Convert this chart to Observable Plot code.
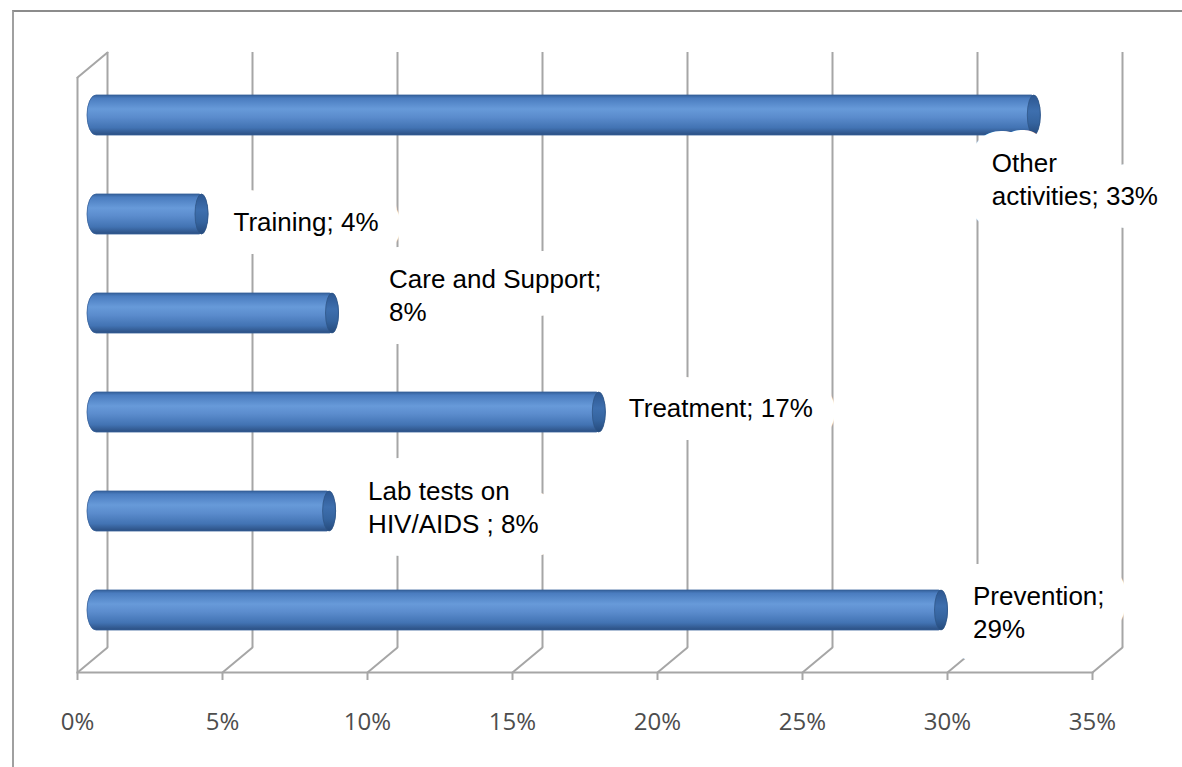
<!DOCTYPE html>
<html>
<head>
<meta charset="utf-8">
<script src="https://cdn.jsdelivr.net/npm/d3@7"></script>
<script src="https://cdn.jsdelivr.net/npm/@observablehq/plot@0.6"></script>
<style>
  html, body { margin: 0; padding: 0; background: #fff; overflow: hidden; }
  #chart { position: absolute; left: 0; top: 0; }
  #border { position: absolute; left: 12px; top: 10px; width: 1170px; height: 757px;
            border-top: 2px solid #8c8c8c; border-left: 2px solid #a0a0a0; box-sizing: border-box; z-index: 2; pointer-events: none; }
</style>
</head>
<body>
<div id="chart"></div>
<div id="border"></div>
<script>
// ---- data ----
const categories = ["Other activities", "Training", "Care and Support", "Treatment", "Lab tests on HIV/AIDS", "Prevention"];
const values = [0.327, 0.040, 0.085, 0.177, 0.084, 0.295];
const labels = ["Other\nactivities; 33%", "Training; 4%", "Care and Support;\n8%", "Treatment; 17%", "Lab tests on\nHIV/AIDS ; 8%", "Prevention;\n29%"];
const ticks = [0, 0.05, 0.10, 0.15, 0.20, 0.25, 0.30, 0.35];
const tickLabels = ["0%", "5%", "10%", "15%", "20%", "25%", "30%", "35%"];

const data = categories.map((c, i) => ({category: c, value: values[i], label: labels[i]}));

// ---- styling / 3D depth offsets ----
const depthX = 30, depthY = -25;          // back wall offset
const midX = depthX / 2, midY = depthY / 2; // bar plane
const grid = "#a6a6a6";
const labelNudge = {                        // data-label placement relative to bar end
  "Other activities": [-49, 62],
  "Training": [25, 6],
  "Care and Support": [50, -20],
  "Treatment": [23, -6],
  "Lab tests on HIV/AIDS": [32, -6],
  "Prevention": [25, 0]
};

const labelStyle = c => ({
  x: "value", y: "category", text: "label",
  dx: midX + labelNudge[c][0], dy: midY + labelNudge[c][1],
  textAnchor: "start", lineAnchor: "middle", lineHeight: 1.27,
  fontFamily: "Liberation Sans, Arial, sans-serif", fontSize: 26
});
const haloMarks = categories.map(c => Plot.text(data.filter(d => d.category === c), {
  ...labelStyle(c), fill: "white", stroke: "white", strokeWidth: 46, strokeLinejoin: "round"
}));
const labelMarks = categories.map(c => Plot.text(data.filter(d => d.category === c), {
  ...labelStyle(c), fill: "#000"
}));

const diag = {length: Math.hypot(depthX, depthY), rotate: Math.atan2(depthX, -depthY) * 180 / Math.PI};

const chart = Plot.plot({
  width: 1182,
  height: 767,
  marginLeft: 77,
  marginRight: 90,
  marginTop: 77,
  marginBottom: 95,
  style: {fontFamily: "Liberation Sans, Arial, sans-serif", background: "transparent"},
  x: {domain: [0, 0.35], axis: null, label: null},
  y: {domain: categories, padding: 0, axis: null, label: null},
  marks: [
    // back wall gridlines
    Plot.ruleX(ticks, {x: d => d, dx: depthX, dy: depthY, stroke: grid, strokeWidth: 2}),
    // side wall front edge
    Plot.ruleX([0], {x: d => d, stroke: grid, strokeWidth: 2}),
    // floor diagonals
    Plot.vector(ticks, {x: d => d, frameAnchor: "bottom", anchor: "start", shape: "spike", r: 0,
      ...diag, stroke: grid, strokeWidth: 2, fill: "none"}),
    // side wall top diagonal
    Plot.vector([0], {x: d => d, frameAnchor: "top", anchor: "start", shape: "spike", r: 0,
      ...diag, stroke: grid, strokeWidth: 2, fill: "none"}),
    // front floor edge
    Plot.frame({anchor: "bottom", stroke: grid, strokeWidth: 2}),
    // axis
    Plot.axisX(ticks, {tickSize: 8, tickPadding: 32, stroke: grid, strokeWidth: 2, label: null,
      fill: "#4d4d4d", fontSize: 24, fontFamily: "Open Sans, sans-serif",
      tickFormat: d => tickLabels[ticks.indexOf(d)]}),
    // cylinder bodies
    Plot.barX(data, {x: "value", y: "category", dx: midX, dy: midY,
      insetTop: 29.5, insetBottom: 29.5, insetLeft: -5, rx: 9, ry: 20,
      fill: "url(#cylBody)", stroke: "#35609a", strokeWidth: 0.8}),
    // cylinder end caps
    Plot.barX(data, {x1: "value", x2: "value", y: "category", dx: midX, dy: midY,
      insetTop: 29.5, insetBottom: 29.5, insetLeft: -13, rx: 6.5, ry: 20,
      fill: "url(#cylCap)", stroke: "#2f5587", strokeWidth: 0.8}),
    ...haloMarks,
    ...labelMarks
  ]
});

document.getElementById("chart").appendChild(chart);
const svgEl = chart.tagName.toLowerCase() === "svg" ? chart : chart.querySelector("svg");
const defs = d3.select(svgEl).insert("defs", ":first-child");
const body = defs.append("linearGradient").attr("id", "cylBody").attr("x1", 0).attr("y1", 0).attr("x2", 0).attr("y2", 1);
[[0, "#34609a"], [0.08, "#4a7cbf"], [0.35, "#679ad9"], [0.55, "#5b8ccd"], [0.82, "#4273b3"], [1, "#2b4f82"]]
  .forEach(([o, c]) => body.append("stop").attr("offset", o).attr("stop-color", c));
const cap = defs.append("linearGradient").attr("id", "cylCap").attr("x1", 0).attr("y1", 0).attr("x2", 0).attr("y2", 1);
[[0, "#2c5690"], [0.4, "#3e6fae"], [0.7, "#35649f"], [1, "#254a7c"]]
  .forEach(([o, c]) => cap.append("stop").attr("offset", o).attr("stop-color", c));
</script>
</body>
</html>
